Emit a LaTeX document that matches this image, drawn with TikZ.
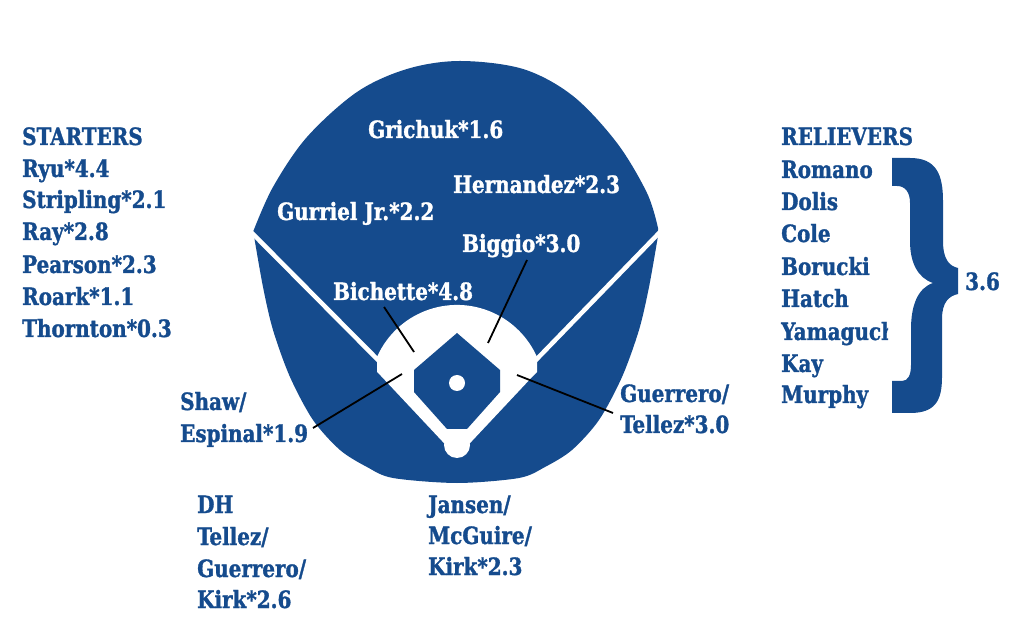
\documentclass[tikz,border=0pt]{standalone}
\usepackage{fontspec}
\newfontfamily\lblfont{DejaVu Serif Condensed}[FakeStretch=0.93, BoldFeatures={FakeBold=1.3}]
\definecolor{jblue}{RGB}{21,75,141}
\tikzset{
  lbl/.style={font=\lblfont\bfseries\fontsize{23.8}{32}\selectfont, text=jblue, inner sep=0pt, anchor=base west},
  wlbl/.style={lbl, text=white},
  conn/.style={draw=black, line width=1.8pt},
}
\begin{document}
\begin{tikzpicture}[x=1pt,y=1pt]
\useasboundingbox (0,0) rectangle (1024,629);
% field
\fill[jblue] plot[smooth, tension=0.55] coordinates {(253,397) (273,442) (307,492) (357,537) (407,560) (460,568) (523,560) (573,533) (617,486) (647,436) (658,401)}
  -- plot[smooth] coordinates {(658,393) (649,342) (639,299) (622,252) (599,209) (572,179) (545,162) (519,151) (457,146) (393,151) (367,162) (340,179) (313,209) (290,252) (273,299) (263,342) (254,393)} -- cycle;
\draw[white, line width=4.5pt] (249,399) -- (381,266);
\draw[white, line width=4.5pt] (662,399) -- (533,266);
\fill[white] (457,172) -- (381,253) -- (377,257) -- (377,272) arc[start angle=156.1, end angle=23.9, radius=87.5] -- (537,257) -- (533,253) -- cycle;
\fill[white] (457,184) circle (13);
\fill[jblue] (457,296) -- (500,259) -- (500,237) -- (467,200) -- (447,200) -- (414,237) -- (414,259) -- cycle;
\fill[white] (457,246) circle (8);
% field labels
\node[wlbl] (grichuk) at (368,491) {Grichuk*1.6};
\node[wlbl] (hernandez) at (453,436) {Hernandez*2.3};
\node[wlbl] (gurriel) at (277,409) {Gurriel Jr.*2.2};
\node[wlbl] (biggio) at (462,377) {Biggio*3.0};
\node[wlbl] (bichette) at (333,329) {Bichette*4.8};
% starters
\node[lbl] (starters) at (22,484) {STARTERS};
\node[lbl] (ryu) at (22,452) {Ryu*4.4};
\node[lbl] (stripling) at (22,421) {Stripling*2.1};
\node[lbl] (ray) at (22,389) {Ray*2.8};
\node[lbl] (pearson) at (22,356) {Pearson*2.3};
\node[lbl] (roark) at (22,324) {Roark*1.1};
\node[lbl] (thornton) at (22,292) {Thornton*0.3};
% relievers
\node[lbl] (relievers) at (781,484) {RELIEVERS};
\node[lbl] (romano) at (781,451) {Romano};
\node[lbl] (dolis) at (781,419) {Dolis};
\node[lbl] (cole) at (781,387) {Cole};
\node[lbl] (borucki) at (781,354) {Borucki};
\node[lbl] (hatch) at (781,322) {Hatch};
\begin{scope}
\clip (770,270) rectangle (888,320);
\node[lbl] (yamaguchi) at (781,289) {Yamaguchi};
\end{scope}
\node[lbl] (kay) at (781,257) {Kay};
\node[lbl] (murphy) at (781,226) {Murphy};
% brace
\fill[jblue] (892,471) -- (910,471) .. controls (936,471) and (943,455) .. (943,428) -- (943,388)
  .. controls (943,370) and (949,363) .. (958,361) -- (958,335)
  .. controls (949,333) and (942,327) .. (942,310) -- (942,252)
  .. controls (942,228) and (935,216) .. (910,216) -- (892,216) -- (892,248) -- (902,248)
  .. controls (908,248) and (911,254) .. (911,264) -- (911,300)
  .. controls (911,324) and (918,341) .. (933,346)
  .. controls (918,351) and (910,366) .. (910,388) -- (910,426)
  .. controls (910,437) and (905,443) .. (897,443) -- (892,443) -- cycle;
\node[lbl] (avg) at (965,339) {3.6};
% bottom labels
\node[lbl] (shaw) at (180,219) {Shaw/};
\node[lbl] (espinal) at (180,187) {Espinal*1.9};
\node[lbl] (guerrero) at (620,227) {Guerrero/};
\node[lbl] (tellez) at (620,196) {Tellez*3.0};
\node[lbl] (dh) at (197,116) {DH};
\node[lbl] (dhtellez) at (197,84) {Tellez/};
\node[lbl] (dhguerrero) at (197,52) {Guerrero/};
\node[lbl] (dhkirk) at (197,21) {Kirk*2.6};
\node[lbl] (jansen) at (428,116) {Jansen/};
\node[lbl] (mcguire) at (428,85) {McGuire/};
\node[lbl] (kirk) at (428,54) {Kirk*2.3};
% connectors
\coordinate (bichA) at (384,322); \coordinate (bichB) at (414,277);
\coordinate (bigA) at (527,369); \coordinate (bigB) at (488,286);
\coordinate (shawA) at (313,201); \coordinate (shawB) at (402,255);
\coordinate (guerA) at (613,216); \coordinate (guerB) at (517,254);
\draw[conn] (bichA) -- (bichB);
\draw[conn] (bigA) -- (bigB);
\draw[conn] (shawA) -- (shawB);
\draw[conn] (guerA) -- (guerB);
\end{tikzpicture}
\end{document}
